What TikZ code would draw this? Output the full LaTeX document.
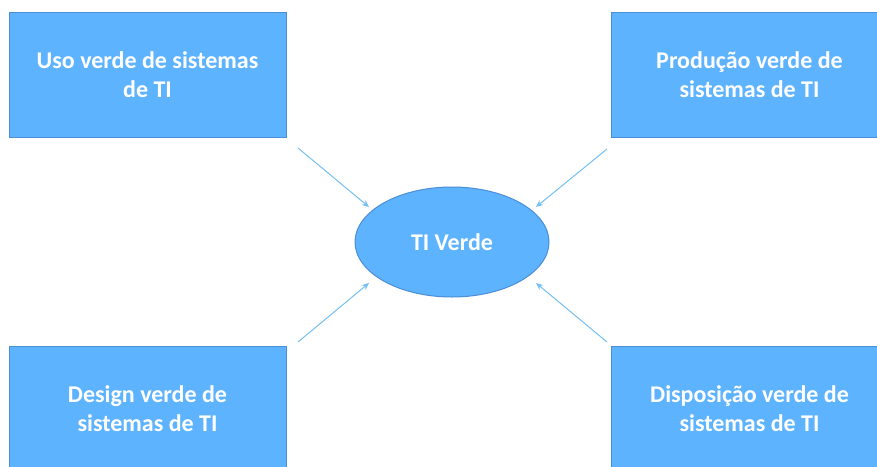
\documentclass[tikz,border=0pt]{standalone}
\usepackage{fontspec}
\setmainfont{Carlito}
\usetikzlibrary{shapes.geometric,arrows.meta}
\definecolor{boxfill}{HTML}{5EB3FF}
\definecolor{boxdraw}{HTML}{4A8ED6}
\definecolor{arrowc}{HTML}{74BFF3}
\begin{document}
\begin{tikzpicture}[x=1pt,y=-1pt,
  box/.style={draw=boxdraw, line width=1pt, fill=boxfill, minimum width=277pt, minimum height=125pt, inner sep=0pt,
    text=white, font=\fontsize{24}{29}\selectfont\bfseries, align=center},
  oval/.style={ellipse, draw=boxdraw, line width=1pt, fill=boxfill, minimum width=194pt, minimum height=110pt, inner sep=0pt,
    text=white, font=\fontsize{24}{29}\selectfont\bfseries},
  arr/.style={draw=arrowc, line width=1pt, -{Stealth[length=7pt,width=6pt]}}]
\useasboundingbox (0,0) rectangle (877,466);
\clip (0,0) rectangle (877,466);
\node[box] (tl) at (147.5,74.5) {Uso verde de sistemas\\de TI};
\node[box] (tr) at (749.5,74.5) {Produção verde de\\sistemas de TI};
\node[box] (bl) at (147.5,408.5) {Design verde de\\sistemas de TI};
\node[box] (br) at (749.5,408.5) {Disposição verde de\\sistemas de TI};
\node[oval] (ell) at (452,242) {TI Verde};
\coordinate (s1) at (298,148);
\coordinate (e1) at (369,207);
\coordinate (s2) at (607,149);
\coordinate (e2) at (536,207);
\coordinate (s3) at (298,342);
\coordinate (e3) at (369,283);
\coordinate (s4) at (607,342);
\coordinate (e4) at (536,283);
\draw[arr] (s1) -- (e1);
\draw[arr] (s2) -- (e2);
\draw[arr] (s3) -- (e3);
\draw[arr] (s4) -- (e4);
\end{tikzpicture}
\end{document}
